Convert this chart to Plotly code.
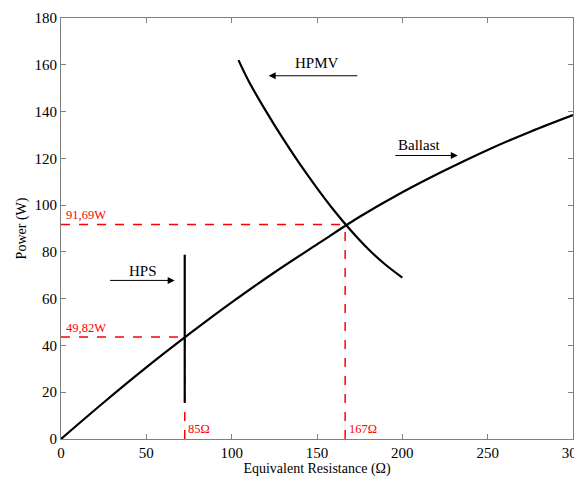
import plotly.graph_objects as go

# Data
ballast_x = [0, 25, 50, 75, 100, 125, 150, 175, 200, 225, 250, 275, 300]
ballast_y = [0, 15.6, 30.6, 44.8, 58.4, 71.2, 83.2, 95.0, 105.5, 114.9, 123.6, 131.4, 138.5]

hpmv_x = [104, 110, 120, 130, 140, 150, 160, 170, 180, 190, 200]
hpmv_y = [162, 153, 140.3, 128.5, 117.5, 107.3, 97.7, 89.0, 81.2, 74.6, 69]

hps_x = [72.5, 72.5]
hps_y = [15.5, 78.8]

# Operating points (resistance, power) as drawn
op_r = [72.5, 166.5]
op_p = [43.6, 91.7]
op_power_labels = ["49,82W", "91,69W"]
op_res_labels = ["85Ω", "167Ω"]

x_ticks = [0, 50, 100, 150, 200, 250, 300]
y_ticks = [0, 20, 40, 60, 80, 100, 120, 140, 160, 180]

FONT = "Liberation Serif, DejaVu Serif, serif"
RED = "#ff0000"

fig = go.Figure()

# red dashed guide lines
for r, p in zip(op_r, op_p):
    fig.add_trace(go.Scatter(x=[0, r], y=[p, p], mode="lines",
                             line=dict(color=RED, width=1.5, dash="dash"),
                             showlegend=False, hoverinfo="skip"))
    fig.add_trace(go.Scatter(x=[r, r], y=[0, p], mode="lines",
                             line=dict(color=RED, width=1.5, dash="dash"),
                             showlegend=False, hoverinfo="skip"))

fig.add_trace(go.Scatter(x=ballast_x, y=ballast_y, mode="lines", line_shape="spline",
                         line=dict(color="black", width=2.2), showlegend=False))
fig.add_trace(go.Scatter(x=hpmv_x, y=hpmv_y, mode="lines", line_shape="spline",
                         line=dict(color="black", width=2.2), showlegend=False))
fig.add_trace(go.Scatter(x=hps_x, y=hps_y, mode="lines",
                         line=dict(color="black", width=2.2), showlegend=False))

ann = []
# curve labels
for txt, tx, ty in [("HPMV", 150, 160.6), ("Ballast", 209.7, 125.6), ("HPS", 47.8, 71.9)]:
    ann.append(dict(x=tx, y=ty, text=txt, showarrow=False, xref="x", yref="y",
                    font=dict(family=FONT, size=15, color="black")))
# arrows
for x0, x1, y in [(174.5, 121.7, 155.3), (195, 232.5, 121.2), (27.9, 66.6, 67.8)]:
    ann.append(dict(x=x1, y=y, ax=x0, ay=y, xref="x", yref="y", axref="x", ayref="y",
                    text="", showarrow=True, arrowhead=2, arrowsize=1.4, arrowwidth=1,
                    arrowcolor="black"))
# red value labels
for p, lab in zip(op_p, op_power_labels):
    ann.append(dict(x=2.0, y=p + 4, text=lab, showarrow=False, xanchor="left",
                    font=dict(family=FONT, size=12.5, color=RED)))
for r, lab in zip(op_r, op_res_labels):
    ann.append(dict(x=r + 1.0, y=4.3, text=lab, showarrow=False, xanchor="left",
                    font=dict(family=FONT, size=12.5, color=RED)))

axis_common = dict(showgrid=False, zeroline=False, showline=True, linecolor="#808080",
                   linewidth=1, mirror="allticks", ticks="inside", ticklen=5,
                   tickcolor="#808080", automargin=False, ticklabeloverflow="allow",
                   tickfont=dict(family=FONT, size=15, color="black"))

fig.update_layout(
    width=575, height=472,
    margin=dict(l=53, r=10, t=10, b=41),
    paper_bgcolor="white", plot_bgcolor="white",
    xaxis=dict(range=[0, 300], tickvals=x_ticks, **axis_common,
               title=dict(text="Equivalent Resistance (Ω)", standoff=2,
                          font=dict(family=FONT, size=14, color="black"))),
    yaxis=dict(range=[0, 180], tickvals=y_ticks, **axis_common,
               title=dict(text="Power (W)", standoff=4,
                          font=dict(family=FONT, size=14, color="black"))),
    annotations=ann,
)

fig.write_html("out.html")
